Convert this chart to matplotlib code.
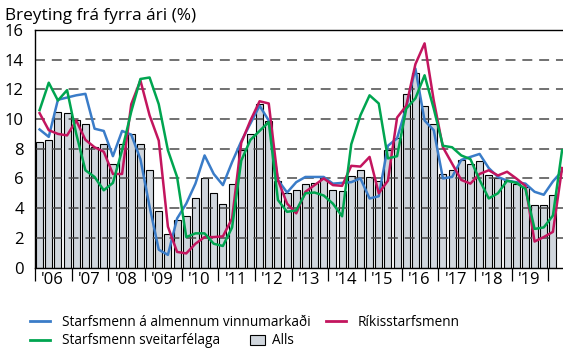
import matplotlib
matplotlib.use('Agg')
import matplotlib.pyplot as plt
import numpy as np
from matplotlib.lines import Line2D
from matplotlib.patches import Patch

plt.rcParams['font.family'] = ['Open Sans', 'DejaVu Sans']

years = ["'06", "'07", "'08", "'09", "'10", "'11", "'12",
         "'13", "'14", "'15", "'16", "'17", "'18", "'19"]

# quarterly change from previous year (%), 2006 Q1 onwards
alls = [8.45, 8.6, 10.5, 10.4, 9.95, 9.7, 8.1, 8.3, 6.95, 8.3, 9.0, 8.3,
        6.55, 3.8, 2.25, 3.2, 3.45, 4.65, 6.0, 5.0, 4.3, 5.6, 7.9, 9.0,
        11.0, 9.9, 5.8, 5.0, 5.25, 5.6, 5.7, 6.0, 5.25, 5.15, 6.15, 6.6,
        6.1, 5.85, 7.9, 8.7, 11.7, 13.1, 10.9, 9.7, 6.3, 6.6, 7.25, 7.0,
        7.2, 6.2, 6.05, 5.85, 5.65, 5.4, 4.2, 4.2, 4.9]

almennur = [9.3, 8.8, 11.3, 11.45, 11.6, 11.7, 9.35, 9.2, 7.5, 9.2, 8.95, 7.3,
            4.1, 1.2, 0.85, 3.3, 4.3, 5.65, 7.55, 6.3, 5.55, 7.1, 8.5, 9.7,
            10.9, 9.9, 5.9, 5.05, 5.75, 6.1, 6.1, 6.1, 5.65, 5.7, 5.75, 6.0,
            4.65, 4.8, 8.2, 8.7, 10.8, 13.4, 9.9, 9.25, 6.0, 6.1, 7.25, 7.45,
            7.65, 6.7, 6.1, 5.85, 5.75, 5.65, 5.1, 4.9, 5.8, 6.5]

riki = [10.4, 9.25, 9.0, 8.9, 9.9, 8.6, 8.1, 7.8, 6.3, 6.3, 11.0, 12.6,
        10.25, 8.55, 2.75, 1.05, 0.95, 1.6, 2.05, 2.05, 2.1, 3.3, 8.4, 9.9,
        11.2, 11.05, 5.9, 4.3, 3.65, 5.1, 5.55, 6.0, 5.55, 5.5, 6.85, 6.8,
        7.45, 5.0, 5.85, 10.1, 10.9, 13.7, 15.1, 11.25, 8.1, 7.0, 5.9, 5.65,
        6.3, 6.55, 6.2, 6.45, 6.0, 5.5, 1.75, 2.05, 2.4, 6.7]

sveitarfelog = [10.6, 12.45, 11.25, 11.95, 9.0, 6.55, 6.1, 5.2, 5.7, 7.9, 10.5, 12.7,
                12.8, 11.0, 7.9, 6.1, 2.05, 2.3, 2.3, 1.6, 1.45, 2.7, 7.2, 8.6,
                9.2, 9.8, 4.55, 3.75, 3.85, 5.0, 5.05, 4.85, 4.3, 3.45, 8.3, 10.25,
                11.6, 11.05, 7.35, 7.5, 10.7, 11.4, 12.95, 10.7, 8.2, 8.1, 7.55, 7.3,
                5.9, 4.65, 5.0, 5.85, 5.7, 5.3, 2.6, 2.7, 3.5, 7.9]

c_blue = '#3a7cc8'
c_red = '#c3155e'
c_green = '#00a550'
c_bar = '#d0d6dd'

fig = plt.figure(figsize=(5.63, 3.49), dpi=100)
ax = fig.add_axes([35 / 563, 1 - 267.5 / 349, 1 - 35 / 563, 237.5 / 349])

ax.bar(np.arange(len(alls)), alls, width=0.78, color=c_bar,
       edgecolor='black', linewidth=0.8, zorder=1)

# dashed gridlines sit on top of the bars
for y in range(2, 16, 2):
    ax.axhline(y, color='#4a4a4a', lw=1.1, dashes=(6.5, 4.5), zorder=1.5)

ax.plot(np.arange(len(almennur)), almennur, color=c_blue, lw=1.8, zorder=3)
ax.plot(np.arange(len(riki)), riki, color=c_red, lw=1.8, zorder=3)
ax.plot(np.arange(len(sveitarfelog)), sveitarfelog, color=c_green, lw=1.8, zorder=3)

ax.set_xlim(-0.5, 57.1)
ax.set_ylim(0, 16)
ax.set_yticks(range(0, 17, 2))
ax.tick_params(axis='y', length=0, pad=8, labelsize=12)

ax.set_xticks(np.arange(-0.5, 57, 4))
ax.set_xticklabels([])
ax.tick_params(axis='x', which='major', length=9, width=0.9, direction='out')
ax.set_xticks(np.arange(len(years)) * 4 + 1.4, minor=True)
ax.set_xticklabels(years, minor=True)
ax.tick_params(axis='x', which='minor', length=0, pad=3, labelsize=12)

for s in ['left', 'bottom', 'top']:
    ax.spines[s].set_linewidth(1.0)
ax.spines['right'].set_visible(False)

fig.text(5 / 563, 1 - 16.5 / 349, 'Breyting frá fyrra ári (%)',
         fontsize=12.4, va='center', ha='left')

leg_kw = dict(frameon=False, fontsize=9.8, borderpad=0, borderaxespad=0,
              handletextpad=0.85, handlelength=1.5, loc='center left')
h_blue = Line2D([], [], color=c_blue, lw=2)
h_red = Line2D([], [], color=c_red, lw=2)
h_green = Line2D([], [], color=c_green, lw=2)
h_alls = Patch(facecolor=c_bar, edgecolor='black', linewidth=0.8)

fig.legend([h_blue, h_red], ['Starfsmenn á almennum vinnumarkaði', 'Ríkisstarfsmenn'],
           ncol=2, columnspacing=1.1, bbox_to_anchor=(30 / 563, 1 - 322 / 349), **leg_kw)
fig.legend([h_green], ['Starfsmenn sveitarfélaga'],
           bbox_to_anchor=(30 / 563, 1 - 341 / 349), **leg_kw)
leg_kw['handlelength'] = 1.1
leg_kw['handletextpad'] = 0.55
fig.legend([h_alls], ['Alls'],
           bbox_to_anchor=(250 / 563, 1 - 341 / 349), **leg_kw)

fig.savefig('out.png', dpi=100)
